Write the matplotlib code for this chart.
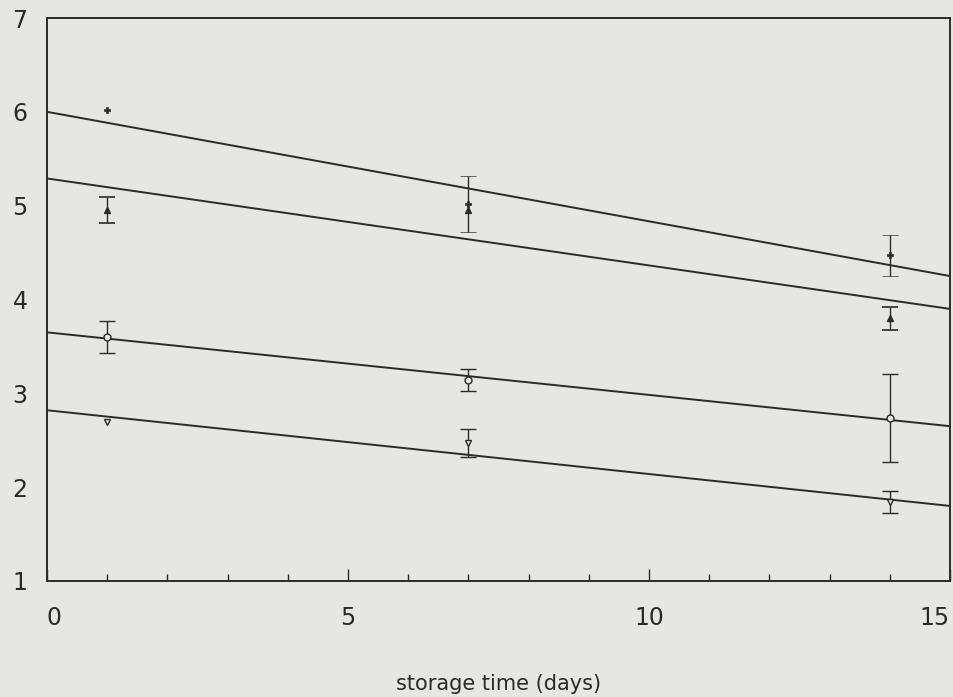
import matplotlib.pyplot as plt
import numpy as np

# storage days
days = [1, 7, 14]

# series values (mean, error bar half-range; nan = no bar)
plus_y = [6.02, 5.02, 4.47]
plus_err = [np.nan, 0.30, 0.22]
tri_y = [4.95, 4.95, 3.80]
tri_err = [0.14, np.nan, 0.12]
circ_y = [3.60, 3.14, 2.74]
circ_err = [0.17, 0.12, 0.47]
vtri_y = [2.69, 2.47, 1.84]
vtri_err = [np.nan, 0.15, 0.12]

# fitted lines: value at day 0 and day 15
fit_x = [0, 15]
plus_fit = [6.00, 4.25]
tri_fit = [5.29, 3.90]
circ_fit = [3.65, 2.65]
vtri_fit = [2.82, 1.80]

bg = '#e6e6e4'
ink = '#2a2a2a'

fig = plt.figure(figsize=(9.54, 6.97), dpi=100, facecolor=bg)
ax = fig.add_axes([47/954, 1 - 581/697, 903/954, 563/697], facecolor=bg)

for fy in [plus_fit, tri_fit, circ_fit, vtri_fit]:
	ax.plot(fit_x, fy, color=ink, lw=1.4)

kw = dict(ls='none', color=ink, ecolor=ink, elinewidth=1.0, capsize=6, capthick=1.2, markersize=5)
ax.errorbar(days, plus_y, yerr=plus_err, marker='P', mew=0.5, **kw)
ax.errorbar(days, tri_y, yerr=tri_err, marker='^', **kw)
ax.errorbar(days, circ_y, yerr=circ_err, marker='o', mfc=bg, mew=1.0, **kw)
ax.errorbar(days, vtri_y, yerr=vtri_err, marker='v', mfc=bg, mew=1.0, **kw)

ax.set_xlim(0, 15)
ax.set_ylim(1, 7)
ax.set_xticks([0, 5, 10, 15])
ax.set_xticks(range(0, 16), minor=True)
ax.set_yticks(range(1, 8))
ax.tick_params(axis='x', which='major', direction='in', length=9, width=1, pad=18, labelsize=17, colors=ink)
ax.tick_params(axis='x', which='minor', direction='in', length=5, width=1, colors=ink)
ax.tick_params(axis='y', direction='in', length=0, pad=14, labelsize=17, colors=ink)
labels = ax.get_xticklabels()
labels[0].set_horizontalalignment('left')
labels[-1].set_horizontalalignment('right')
for s in ax.spines.values():
	s.set_color(ink)
	s.set_linewidth(1.4)

ax.set_xlabel('storage time (days)', fontsize=15, color=ink, labelpad=32)

fig.savefig('out.png', dpi=100, facecolor=bg)
